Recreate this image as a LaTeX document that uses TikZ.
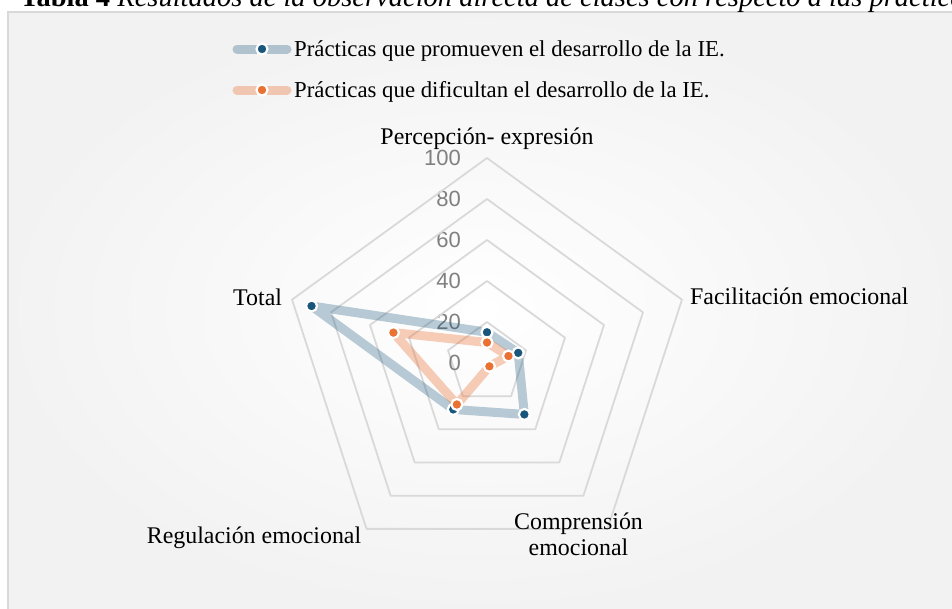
\documentclass[tikz,border=0pt]{standalone}
\usepackage{fontspec}
\setmainfont{Liberation Serif}
\newfontfamily\tickfont{Liberation Sans}
\definecolor{ringc}{RGB}{217,217,217}
\definecolor{bluec}{RGB}{24,86,124}
\definecolor{orangec}{RGB}{233,113,50}
\definecolor{tickc}{RGB}{128,128,128}
\definecolor{framec}{RGB}{217,217,217}
\begin{document}
\begin{tikzpicture}[x=1pt,y=1pt,
  leg/.style={font=\fontsize{22.8}{26}\selectfont, inner sep=0pt, text=black},
  lbl/.style={font=\fontsize{23.9}{26}\selectfont, inner sep=0pt, text=black},
  tick/.style={font=\tickfont\fontsize{22}{24}\selectfont, text=tickc, inner sep=0pt, anchor=east},
  ring/.style={draw=ringc, line width=1.8pt, line join=round},
  serA/.style={draw=bluec, draw opacity=0.3, line width=9pt, line join=round, line cap=round},
  serB/.style={draw=orangec, draw opacity=0.35, line width=9pt, line join=round, line cap=round},
  mkA/.style={circle, fill=bluec, draw=white, line width=2.2pt, minimum size=11pt, inner sep=0pt},
  mkB/.style={circle, fill=orangec, draw=white, line width=2.2pt, minimum size=11pt, inner sep=0pt}]
\useasboundingbox (0,0) rectangle (952,-608);
\fill[white] (0,0) rectangle (952,-608);
\shade[inner color=white, outer color=gray!10] (8,-12) rectangle (952,-608);
\draw[framec, line width=2pt] (8,-640) -- (8,-12) -- (990,-12);
% caption (cut off at top)
\node[anchor=base west, inner sep=0pt, font=\fontsize{28.5}{30}\selectfont] (cap) at (20,-6.5)
  {\textbf{Tabla 4} \textit{Resultados de la observación directa de clases con respecto a las prácticas pedagógicas}};
% legend
\coordinate (la1) at (237,-49); \coordinate (lb1) at (287,-49);
\draw[serA] (la1) -- (lb1);
\node[mkA] (lm1) at (262,-49) {};
\node[leg, anchor=base west] (leg1) at (294,-56.5) {Prácticas que promueven el desarrollo de la IE.};
\coordinate (la2) at (237,-90); \coordinate (lb2) at (287,-90);
\draw[serB] (la2) -- (lb2);
\node[mkB] (lm2) at (262,-90) {};
\node[leg, anchor=base west] (leg2) at (294,-97.5) {Prácticas que dificultan el desarrollo de la IE.};
% radar
\begin{scope}[shift={(487,-363)}]
\foreach \v in {20,40,60,80,100}{
  \pgfmathsetmacro\rr{2.05*\v}
  \draw[ring] (90:\rr) -- (18:\rr) -- (-54:\rr) -- (-126:\rr) -- (162:\rr) -- cycle;
  \node[tick] (t\v) at (-26,\rr) {\v};
}
\node[tick] (t0) at (-26,0) {0};
\foreach \n/\a/\va/\vb in {p/90/15/10, f/18/16/11, c/-54/31/2, r/-126/28/25, t/162/90/48}{
  \pgfmathsetmacro\ra{2.05*\va}
  \pgfmathsetmacro\rb{2.05*\vb}
  \coordinate (A\n) at (\a:\ra);
  \coordinate (B\n) at (\a:\rb);
}
\draw[serA] (Ap) -- (Af) -- (Ac) -- (Ar) -- (At) -- cycle;
\foreach \n in {p,f,c,r,t}{ \node[mkA] (mA\n) at (A\n) {}; }
\draw[serB] (Bp) -- (Bf) -- (Bc) -- (Br) -- (Bt) -- cycle;
\foreach \n in {p,f,c,r,t}{ \node[mkB] (mB\n) at (B\n) {}; }
\end{scope}
% category labels
\node[lbl, anchor=base] (cP) at (487,-144) {Percepción- expresión};
\node[lbl, anchor=base west] (cF) at (690,-304.3) {Facilitación emocional};
\node[lbl, anchor=base west] (cT) at (233,-305) {Total};
\node[lbl, anchor=base] (cR) at (254,-543) {Regulación emocional};
\node[lbl, align=center, anchor=base] (cC) at (578.5,-555) {Comprensión\\emocional};
\end{tikzpicture}
\end{document}
